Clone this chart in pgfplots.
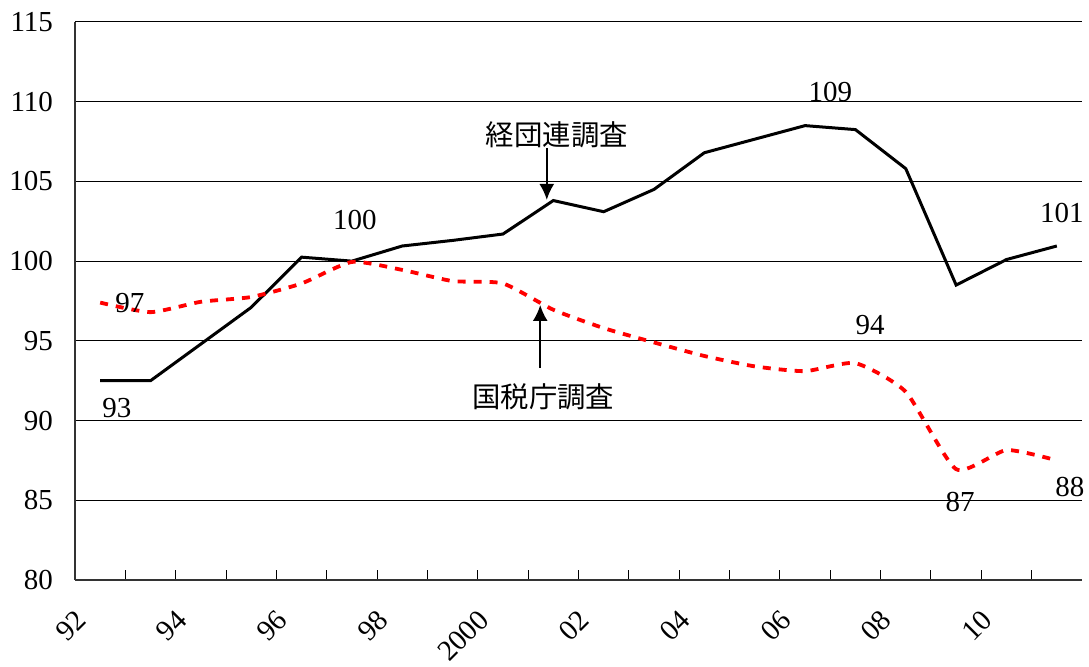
\documentclass[border=0pt]{standalone}
\usepackage{fontspec}
\setmainfont{Liberation Serif}
\newfontfamily\jp{Noto Sans CJK JP}
\usepackage{pgfplots}
\usetikzlibrary{arrows.meta}
\pgfplotsset{compat=1.18}
\begin{document}
\begin{tikzpicture}
\fontsize{14.5}{17}\selectfont
\begin{axis}[
  scale only axis,
  width=503.5pt, height=279pt,
  xmin=92, xmax=112, ymin=80, ymax=115,
  axis x line*=bottom, axis y line*=left,
  axis line style={line width=0.6pt, color=black!80},
  ytick={80,85,...,115},
  ymajorgrids, grid style={line width=0.5pt, black},
  major y tick style={draw=none},
  xtick={92,94,...,110},
  xticklabels={92,94,96,98,2000,02,04,06,08,10},
  minor xtick={93,95,...,111},
  x tick style={line width=0.5pt, black},
  tick align=inside,
  major tick length=5pt, minor tick length=5pt,
  xticklabel shift=0pt,
  xticklabel style={xshift=6.5pt, yshift=-14pt, rotate=45, anchor=east, font=\fontsize{14.5}{17}\selectfont},
  yticklabel style={font=\fontsize{14.5}{17}\selectfont},
  yticklabel shift=6pt,
  /pgf/number format/assume math mode=true,
  clip=false,
]
\addplot[black, line width=1.5pt] coordinates {
 (92.5,92.5) (93.5,92.5) (94.5,94.8) (95.5,97.1) (96.5,100.25) (97.5,100.0)
 (98.5,100.95) (99.5,101.3) (100.5,101.7) (101.5,103.8) (102.5,103.1)
 (103.5,104.5) (104.5,106.8) (105.5,107.65) (106.5,108.5) (107.5,108.25)
 (108.5,105.8) (109.5,98.5) (110.5,100.1) (111.5,100.95)};
\addplot[red, line width=1.9pt, dash pattern=on 4pt off 4pt, smooth, tension=0.35] coordinates {
 (92.5,97.4) (93.5,96.8) (94.5,97.45) (95.5,97.75) (96.5,98.6) (97.5,99.95)
 (98.5,99.45) (99.5,98.75) (100.5,98.6) (101.5,96.95) (102.5,95.8)
 (103.5,94.9) (104.5,94.05) (105.5,93.4) (106.5,93.1) (107.5,93.6)
 (108.5,91.8) (109.5,86.95) (110.5,88.15) (111.5,87.5)};
\node at (axis cs:93.09,97.38) {97};
\node at (axis cs:92.83,90.79) {93};
\node at (axis cs:97.56,102.58) {100};
\node at (axis cs:107.0,110.6) {109};
\node at (axis cs:111.6,103.02) {101};
\node at (axis cs:107.79,96.0) {94};
\node at (axis cs:109.58,84.9) {87};
\node at (axis cs:111.76,85.84) {88};
\node at (axis cs:101.57,107.91) {\jp\fontsize{14.2}{16}\selectfont 経団連調査};
\node at (axis cs:101.3,91.48) {\jp\fontsize{14.2}{16}\selectfont 国税庁調査};
\draw[-{Latex[length=8pt,width=7.5pt]}, line width=1pt] (axis cs:101.37,107.1) -- (axis cs:101.37,103.84);
\draw[-{Latex[length=8pt,width=7.5pt]}, line width=1pt] (axis cs:101.24,93.3) -- (axis cs:101.24,97.25);
\end{axis}
\pgfresetboundingbox
\path[use as bounding box] ([shift={(-37.5pt,-43.5pt)}]current axis.south west) rectangle ([shift={(3.5pt,11pt)}]current axis.north east);
\end{tikzpicture}
\end{document}
